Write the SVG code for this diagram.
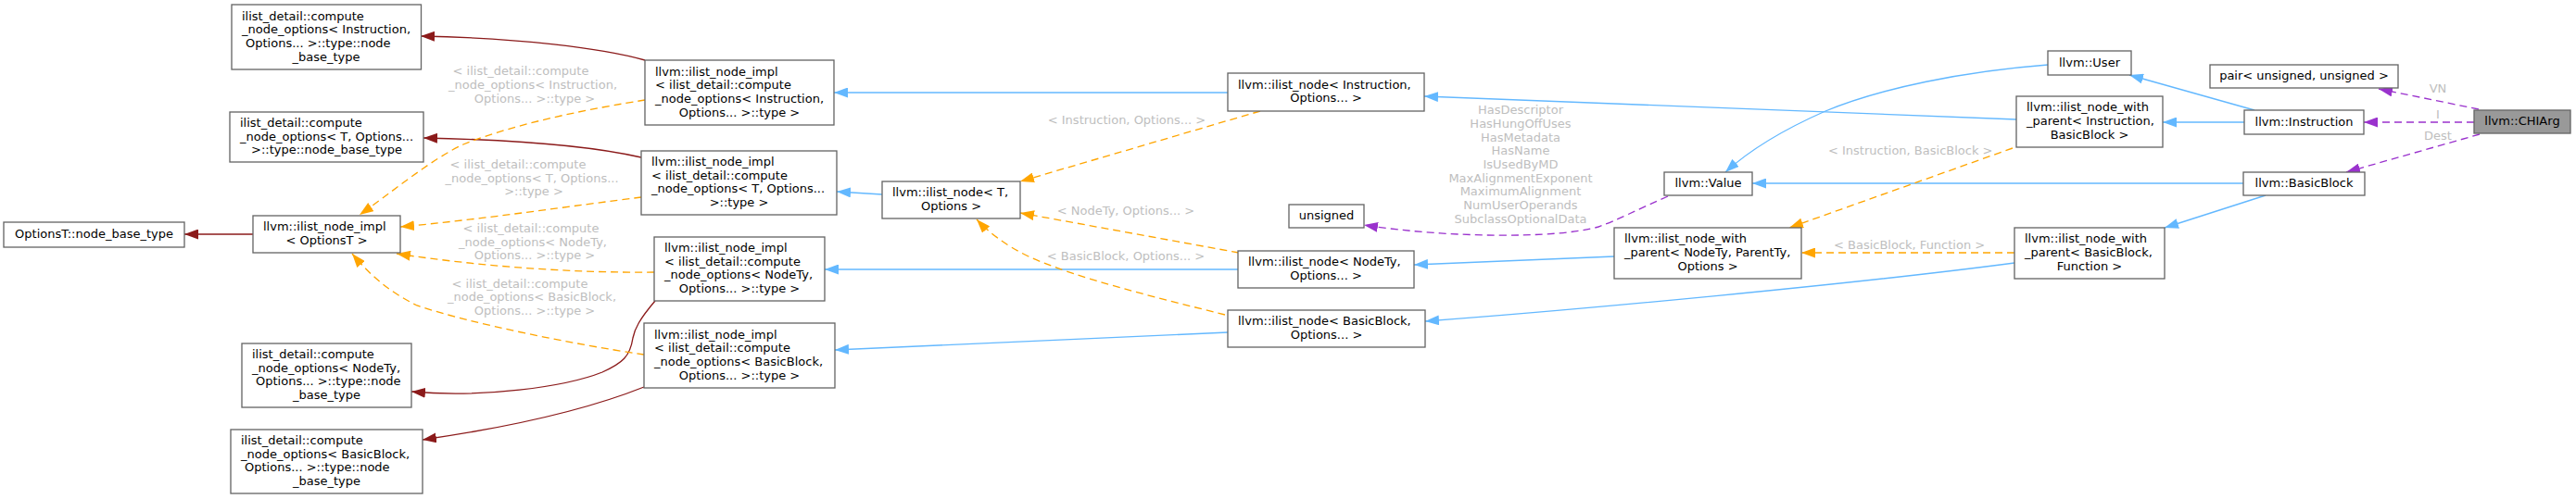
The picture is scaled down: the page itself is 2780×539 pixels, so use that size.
<svg xmlns="http://www.w3.org/2000/svg" width="2780" height="539" viewBox="0 0 2780 539">
<style>
.node rect{fill:#ffffff;stroke:#666666;stroke-width:1.33}
#n_chiarg rect{fill:#999999}
text{font-family:"DejaVu Sans","Liberation Sans",sans-serif;font-size:13px;fill:#000000}
.c{text-anchor:middle}
.lbl{fill:#bebebe}
.e{fill:none;stroke-width:1.33}
.b{stroke:#63b8ff;marker-end:url(#ab)}
.r{stroke:#8b1a1a;marker-end:url(#ar)}
.o{stroke:#ffa500;stroke-dasharray:8,5;marker-end:url(#ao)}
.p{stroke:#9a32cd;stroke-dasharray:8,5;marker-end:url(#ap)}
</style>
<defs>
<marker id="ab" markerUnits="userSpaceOnUse" markerWidth="15" markerHeight="11" viewBox="0 0 15 11" refX="15" refY="5.5" orient="auto"><path d="M0,0 L15,5.5 L0,11 z" fill="#63b8ff"/></marker>
<marker id="ar" markerUnits="userSpaceOnUse" markerWidth="15" markerHeight="11" viewBox="0 0 15 11" refX="15" refY="5.5" orient="auto"><path d="M0,0 L15,5.5 L0,11 z" fill="#8b1a1a"/></marker>
<marker id="ao" markerUnits="userSpaceOnUse" markerWidth="15" markerHeight="11" viewBox="0 0 15 11" refX="15" refY="5.5" orient="auto"><path d="M0,0 L15,5.5 L0,11 z" fill="#ffa500"/></marker>
<marker id="ap" markerUnits="userSpaceOnUse" markerWidth="15" markerHeight="11" viewBox="0 0 15 11" refX="15" refY="5.5" orient="auto"><path d="M0,0 L15,5.5 L0,11 z" fill="#9a32cd"/></marker>
</defs>
<rect x="0" y="0" width="2780" height="539" fill="#ffffff"/>

<g id="edges">
<path class="e b" d="M1325,100 L900,100"/>
<path class="e b" d="M952,210 L903,207"/>
<path class="e b" d="M1336,291 L890,291"/>
<path class="e b" d="M1325,359 L901,378"/>
<path class="e b" d="M2176,129 L1537,104"/>
<path class="e b" d="M1742,277 L1526,286"/>
<path class="e b" d="M2174,284 C2000,307 1700,335 1538,347"/>
<path class="e b" d="M2210,70 C2120,77 2030,95 1970,120 C1920,142 1885,165 1862,186"/>
<path class="e b" d="M2421,198 L1891,198"/>
<path class="e b" d="M2422,132 L2334,132"/>
<path class="e b" d="M2433,119 L2298,81"/>
<path class="e b" d="M2445,211 L2336,246"/>

<path class="e r" d="M696,65 C650,52 560,41 454,39"/>
<path class="e r" d="M692,170 C640,158 560,151 457,149"/>
<path class="e r" d="M707,325 C690,345 685,355 683,365 C680,385 672,392 650,402 C610,418 520,430 444,423"/>
<path class="e r" d="M695,418 C640,440 560,460 456,475"/>
<path class="e r" d="M273,253 L199,253"/>

<path class="e o" d="M696,108 C640,117 560,132 500,156 C465,172 420,210 388,232"/>
<path class="e o" d="M692,213 C620,222 520,237 432,245"/>
<path class="e o" d="M706,294 C620,295 520,288 428,274"/>
<path class="e o" d="M695,383 C620,372 510,350 450,330 C420,315 400,298 380,274"/>
<path class="e o" d="M1360,120 L1101,196"/>
<path class="e o" d="M1337,273 L1101,230"/>
<path class="e o" d="M1322,340 C1250,322 1160,300 1110,277 C1085,265 1066,250 1054,237"/>
<path class="e o" d="M2172,160 L1931,246"/>
<path class="e o" d="M2174,273 L1944,273"/>

<path class="e p" d="M1800,212 C1770,225 1745,238 1725,245 C1680,258 1560,257 1472,243"/>
<path class="e p" d="M2675,118 L2567,96"/>
<path class="e p" d="M2670,132 L2551,132"/>
<path class="e p" d="M2676,145 L2532,186"/>

<text class="lbl c"><tspan x="562" y="81">&lt; ilist_detail::compute</tspan><tspan x="575" y="96">_node_options&lt; Instruction,</tspan><tspan x="577" y="111">Options... &gt;::type &gt;</tspan></text>
<text class="lbl c"><tspan x="559" y="182">&lt; ilist_detail::compute</tspan><tspan x="574" y="197">_node_options&lt; T, Options...</tspan><tspan x="576" y="211">&gt;::type &gt;</tspan></text>
<text class="lbl c"><tspan x="573" y="251">&lt; ilist_detail::compute</tspan><tspan x="575" y="266">_node_options&lt; NodeTy,</tspan><tspan x="577" y="280">Options... &gt;::type &gt;</tspan></text>
<text class="lbl c"><tspan x="561" y="311">&lt; ilist_detail::compute</tspan><tspan x="574" y="325">_node_options&lt; BasicBlock,</tspan><tspan x="577" y="340">Options... &gt;::type &gt;</tspan></text>
<text class="lbl c" x="1216" y="134">&lt; Instruction, Options... &gt;</text>
<text class="lbl c" x="1215" y="232">&lt; NodeTy, Options... &gt;</text>
<text class="lbl c" x="1215" y="281">&lt; BasicBlock, Options... &gt;</text>
<text class="lbl" x="1973" y="167">&lt; Instruction, BasicBlock &gt;</text>
<text class="lbl" x="1979" y="269">&lt; BasicBlock, Function &gt;</text>
<text class="lbl c"><tspan x="1641" y="123">HasDescriptor</tspan><tspan x="1641" y="138">HasHungOffUses</tspan><tspan x="1641" y="153">HasMetadata</tspan><tspan x="1641" y="167">HasName</tspan><tspan x="1641" y="182">IsUsedByMD</tspan><tspan x="1641" y="197">MaxAlignmentExponent</tspan><tspan x="1641" y="211">MaximumAlignment</tspan><tspan x="1641" y="226">NumUserOperands</tspan><tspan x="1641" y="241">SubclassOptionalData</tspan></text>
<text class="lbl c" x="2631" y="100">VN</text>
<text class="lbl c" x="2631" y="128">I</text>
<text class="lbl c" x="2631" y="151">Dest</text>
</g>

<g id="n_ici_base" class="node"><rect x="250" y="5" width="204.5" height="70"/><text><tspan x="261" y="21.5">ilist_detail::compute</tspan><tspan x="261" y="36.2">_node_options&lt; Instruction,</tspan><tspan x="265" y="50.9">Options... &gt;::type::node</tspan><tspan class="c" x="352" y="65.6">_base_type</tspan></text></g>
<g id="n_t_base" class="node"><rect x="248" y="121" width="209" height="54"/><text><tspan x="259" y="136.8">ilist_detail::compute</tspan><tspan x="259" y="151.5">_node_options&lt; T, Options...</tspan><tspan class="c" x="352.5" y="166.2">&gt;::type::node_base_type</tspan></text></g>
<g id="n_optionsT_base" class="node"><rect x="4" y="240" width="195" height="27"/><text class="c" x="101.5" y="257">OptionsT::node_base_type</text></g>
<g id="n_impl_optionsT" class="node"><rect x="273" y="233" width="159" height="40"/><text><tspan x="284" y="249">llvm::ilist_node_impl</tspan><tspan class="c" x="352.5" y="263.7">&lt; OptionsT &gt;</tspan></text></g>
<g id="n_nodety_base" class="node"><rect x="261" y="371" width="183" height="69"/><text><tspan x="272" y="387">ilist_detail::compute</tspan><tspan x="272" y="401.6">_node_options&lt; NodeTy,</tspan><tspan x="276" y="416.3">Options... &gt;::type::node</tspan><tspan class="c" x="352.5" y="431">_base_type</tspan></text></g>
<g id="n_bb_base" class="node"><rect x="249" y="464" width="207" height="69"/><text><tspan x="260" y="480">ilist_detail::compute</tspan><tspan x="260" y="494.6">_node_options&lt; BasicBlock,</tspan><tspan x="264" y="509.3">Options... &gt;::type::node</tspan><tspan class="c" x="352.5" y="524">_base_type</tspan></text></g>
<g id="n_impl_instr" class="node"><rect x="696" y="65" width="204" height="70"/><text><tspan x="707" y="81.5">llvm::ilist_node_impl</tspan><tspan x="707" y="96.2">&lt; ilist_detail::compute</tspan><tspan x="707" y="110.9">_node_options&lt; Instruction,</tspan><tspan class="c" x="798" y="125.6">Options... &gt;::type &gt;</tspan></text></g>
<g id="n_impl_t" class="node"><rect x="692" y="163" width="211" height="69"/><text><tspan x="703" y="179">llvm::ilist_node_impl</tspan><tspan x="703" y="193.6">&lt; ilist_detail::compute</tspan><tspan x="703" y="208.3">_node_options&lt; T, Options...</tspan><tspan class="c" x="797.5" y="223">&gt;::type &gt;</tspan></text></g>
<g id="n_impl_nodety" class="node"><rect x="706" y="256" width="184" height="69"/><text><tspan x="717" y="272">llvm::ilist_node_impl</tspan><tspan x="717" y="286.6">&lt; ilist_detail::compute</tspan><tspan x="717" y="301.3">_node_options&lt; NodeTy,</tspan><tspan class="c" x="798" y="316">Options... &gt;::type &gt;</tspan></text></g>
<g id="n_impl_bb" class="node"><rect x="695" y="349" width="206" height="70"/><text><tspan x="706" y="365.5">llvm::ilist_node_impl</tspan><tspan x="706" y="380.2">&lt; ilist_detail::compute</tspan><tspan x="706" y="394.9">_node_options&lt; BasicBlock,</tspan><tspan class="c" x="798" y="409.6">Options... &gt;::type &gt;</tspan></text></g>
<g id="n_ilist_node_t" class="node"><rect x="952" y="196" width="149" height="40"/><text><tspan x="963" y="212.2">llvm::ilist_node&lt; T,</tspan><tspan class="c" x="1026.5" y="226.9">Options &gt;</tspan></text></g>
<g id="n_ilist_node_instr" class="node"><rect x="1325" y="79" width="212" height="41"/><text><tspan x="1336" y="95.7">llvm::ilist_node&lt; Instruction,</tspan><tspan class="c" x="1431" y="110.4">Options... &gt;</tspan></text></g>
<g id="n_ilist_node_nodety" class="node"><rect x="1336" y="271" width="190" height="40"/><text><tspan x="1347" y="287.2">llvm::ilist_node&lt; NodeTy,</tspan><tspan class="c" x="1431" y="301.9">Options... &gt;</tspan></text></g>
<g id="n_ilist_node_bb" class="node"><rect x="1325" y="335" width="213" height="40"/><text><tspan x="1336" y="351.2">llvm::ilist_node&lt; BasicBlock,</tspan><tspan class="c" x="1431.5" y="365.9">Options... &gt;</tspan></text></g>
<g id="n_unsigned" class="node"><rect x="1391" y="221" width="81" height="25"/><text class="c" x="1431.5" y="237">unsigned</text></g>
<g id="n_value" class="node"><rect x="1796" y="186" width="95" height="25"/><text class="c" x="1843.5" y="202">llvm::Value</text></g>
<g id="n_nwp_generic" class="node"><rect x="1742" y="246" width="202" height="55"/><text><tspan x="1753" y="262.3">llvm::ilist_node_with</tspan><tspan x="1753" y="277">_parent&lt; NodeTy, ParentTy,</tspan><tspan class="c" x="1843" y="291.7">Options &gt;</tspan></text></g>
<g id="n_user" class="node"><rect x="2210" y="55" width="90" height="26"/><text class="c" x="2255" y="71.5">llvm::User</text></g>
<g id="n_nwp_instr" class="node"><rect x="2176" y="104" width="158" height="55"/><text><tspan x="2187" y="120.3">llvm::ilist_node_with</tspan><tspan x="2187" y="135">_parent&lt; Instruction,</tspan><tspan class="c" x="2255" y="149.7">BasicBlock &gt;</tspan></text></g>
<g id="n_nwp_bb" class="node"><rect x="2174" y="246" width="162" height="55"/><text><tspan x="2185" y="262.3">llvm::ilist_node_with</tspan><tspan x="2185" y="277">_parent&lt; BasicBlock,</tspan><tspan class="c" x="2255" y="291.7">Function &gt;</tspan></text></g>
<g id="n_pair" class="node"><rect x="2385" y="70" width="203" height="25"/><text class="c" x="2486.5" y="86">pair&lt; unsigned, unsigned &gt;</text></g>
<g id="n_instruction" class="node"><rect x="2422" y="119" width="129" height="26"/><text class="c" x="2486.5" y="135.5">llvm::Instruction</text></g>
<g id="n_basicblock" class="node"><rect x="2421" y="186" width="131" height="25"/><text class="c" x="2486.5" y="202">llvm::BasicBlock</text></g>
<g id="n_chiarg" class="node"><rect x="2670" y="119" width="104" height="25"/><text class="c" x="2722" y="135">llvm::CHIArg</text></g>
</svg>
